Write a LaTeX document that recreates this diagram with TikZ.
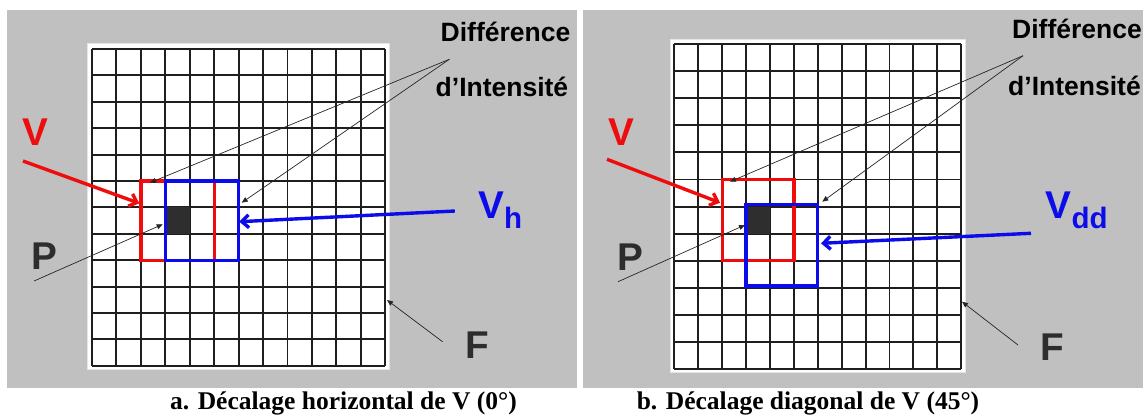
\documentclass[tikz,border=0pt]{standalone}
\usepackage{fontspec}
\setmainfont{Liberation Serif}
\setsansfont{Liberation Sans}
\usepackage{tikz}
\usetikzlibrary{arrows.meta,positioning}

\definecolor{panelgray}{RGB}{192,192,192}
\definecolor{gridline}{RGB}{30,30,30}
\definecolor{winred}{RGB}{238,12,12}
\definecolor{winblue}{RGB}{12,12,235}
\definecolor{lettergray}{RGB}{45,45,45}

\begin{document}
\begin{tikzpicture}[x=1pt, y=-1pt,
  panel/.style={fill=panelgray, draw=none},
  frame/.style={fill=white, draw=white!90!black, line width=0.6pt},
  cellline/.style={gridline, line width=1.9pt},
  pixel/.style={fill=black!82},
  window/.style={line width=3.3pt},
  bigletter/.style={font=\sffamily\bfseries\fontsize{38.7}{40}\selectfont, inner sep=0pt, anchor=base west},
  note/.style={font=\sffamily\bfseries\fontsize{26.5}{28}\selectfont, inner sep=0pt, anchor=base west},
  leader/.style={-{Triangle[length=6pt,width=5pt]}, line width=0.7pt, black!85},
  fatarrow/.style={-{Straight Barb[length=7pt,width=13pt]}, line width=3.4pt},
  caption/.style={font=\bfseries\fontsize{25.5}{27}\selectfont, inner sep=0pt, anchor=base}
]
  \useasboundingbox (0,0) rectangle (1148,416);

  % ---------- a. horizontal shift ----------
  \fill[panel] (7,10) rectangle (576.5,387.5);
  \draw[frame] (87.7,43.3) rectangle (389,369.5);

  % Grid 12x12
  \foreach \i in {0,...,12} {
    \draw[cellline] (92+\i*24.44, 49) -- (92+\i*24.44, 365.8);
    \draw[cellline] (92, 49+\i*26.4) -- (385.3, 49+\i*26.4);
  }

  % pixel P
  \fill[pixel] (92+3*24.44, 49+6*26.4) rectangle (92+4*24.44, 49+7*26.4);

  % windows V and V_h
  \draw[window, winred] (92+2*24.44, 49+5*26.4) rectangle (92+5*24.44, 49+8*26.4);
  \draw[window, winblue] (92+3*24.44, 49+5*26.4) rectangle (92+6*24.44, 49+8*26.4);

  % labels
  \node[bigletter, winred] (vA) at (22.5,145.7) {V};
  \node[bigletter, lettergray] (pA) at (31,269.3) {P};
  \node[bigletter, lettergray] (fA) at (465.6,358.3) {F};
  \node[bigletter, winblue] (vhA) at (478,218.3) {V\raisebox{-10pt}{\fontsize{29.5}{30}\selectfont h}};
  \node[note] (diffA) at (440.5,41.7) {Différence};
  \node[note] (intA) at (435.5,96.7) {d’Intensité};

  % connector ends
  \coordinate (hubA) at (449.3,59.3);
  \coordinate (vtailA) at (23,161);
  \coordinate (vtipA) at (139.3,203.3);
  \coordinate (vhtailA) at (454.8,211);
  \coordinate (vhtipA) at (239.3,221.7);
  \coordinate (ptailA) at (34,281);
  \coordinate (ptipA) at (162.7,224.3);
  \coordinate (ftailA) at (442.6,341.7);
  \coordinate (ftipA) at (387,300);
  \coordinate (d1tipA) at (150,182.7);
  \coordinate (d2tipA) at (241.7,202.7);

  \draw[leader] (hubA) -- (d1tipA);
  \draw[leader] (hubA) -- (d2tipA);
  \draw[leader] (ptailA) -- (ptipA);
  \draw[leader] (ftailA) -- (ftipA);
  \draw[fatarrow, winred] (vtailA) -- (vtipA);
  \draw[fatarrow, winblue] (vhtailA) -- (vhtipA);

  \node[caption] (capA) at (343.5,409.5) {a. Décalage horizontal de V (0°)};

  % ---------- b. diagonal shift ----------
  \fill[panel] (583,10) rectangle (1143,387.5);
  \draw[frame] (670,39) rectangle (965.5,372);

  % Grid 12x12
  \foreach \i in {0,...,12} {
    \draw[cellline] (674.4+\i*23.9, 44) -- (674.4+\i*23.9, 369.2);
    \draw[cellline] (674.4, 44+\i*27.1) -- (961.2, 44+\i*27.1);
  }

  % pixel P
  \fill[pixel] (674.4+3*23.9, 44+6*27.1) rectangle (674.4+4*23.9, 44+7*27.1);

  % windows V and V_dd
  \draw[window, winred] (674.4+2*23.9, 44+5*27.1) rectangle (674.4+5*23.9, 44+8*27.1);
  \draw[window, winblue] (674.4+3*23.9, 42+6*27.1) rectangle (674.4+6*23.9, 42+9*27.1);

  % labels
  \node[bigletter, winred] (vB) at (608.2,145) {V};
  \node[bigletter, lettergray] (pB) at (617,270) {P};
  \node[bigletter, lettergray] (fB) at (1040,360) {F};
  \node[bigletter, winblue] (vddB) at (1045.5,218.3) {V\raisebox{-10pt}{\fontsize{29.5}{30}\selectfont dd}};
  \node[note] (diffB) at (1012,38.3) {Différence};
  \node[note] (intB) at (1008,95) {d’Intensité};

  % connector ends
  \coordinate (hubB) at (1023,55.7);
  \coordinate (vtailB) at (607,159.3);
  \coordinate (vtipB) at (720,202.7);
  \coordinate (vddtailB) at (1031,233.3);
  \coordinate (vddtipB) at (821,243.3);
  \coordinate (ptailB) at (618,281.7);
  \coordinate (ptipB) at (745,225);
  \coordinate (ftailB) at (1018,345);
  \coordinate (ftipB) at (962,301.7);
  \coordinate (d1tipB) at (730,181.7);
  \coordinate (d2tipB) at (822.3,201.7);

  \draw[leader] (hubB) -- (d1tipB);
  \draw[leader] (hubB) -- (d2tipB);
  \draw[leader] (ptailB) -- (ptipB);
  \draw[leader] (ftailB) -- (ftipB);
  \draw[fatarrow, winred] (vtailB) -- (vtipB);
  \draw[fatarrow, winblue] (vddtailB) -- (vddtipB);

  \node[caption] (capB) at (808,409.5) {b. Décalage diagonal de V (45°)};
\end{tikzpicture}
\end{document}
